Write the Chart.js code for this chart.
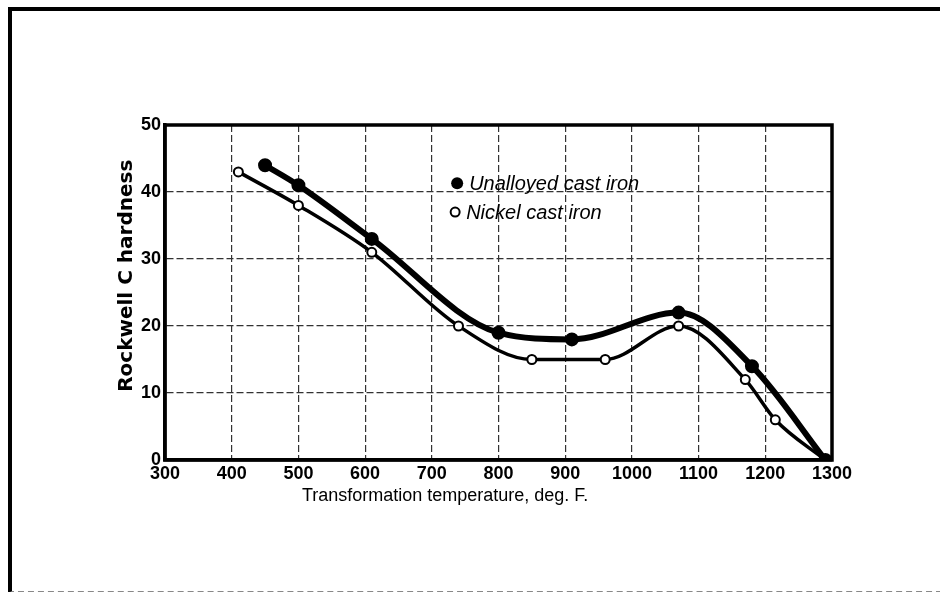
<!DOCTYPE html>
<html>
<head>
<meta charset="utf-8">
<script src="https://cdn.jsdelivr.net/npm/chart.js@4"></script>
<style>
html,body{margin:0;padding:0;background:#fff;}
#wrap{position:relative;width:940px;height:592px;overflow:hidden;}
#frame{position:absolute;left:8px;top:7px;width:940px;height:580px;border-top:4px solid #000;border-left:4px solid #000;border-bottom:2px dashed #888;}
canvas{position:absolute;left:0;top:0;}
</style>
</head>
<body>
<div id="wrap">
<div id="frame"></div>
<canvas id="c" width="940" height="592"></canvas>
</div>
<script>
// values
const unalloyedTemp=[450,500,610,800,910,1070,1180,1290];
const unalloyedHard=[44,41,33,19,18,22,14,0];
const nickelTemp=[410,500,610,740,850,960,1070,1170,1215,1290];
const nickelHard=[43,38,31,20,15,15,20,12,6,0];
const xTicks=[300,400,500,600,700,800,900,1000,1100,1200,1300];
const yTicks=[0,10,20,30,40,50];
const seriesNames=['Unalloyed cast iron','Nickel cast iron'];
const xTitle='Transformation temperature, deg. F.';
const yTitle='Rockwell C hardness';

const toXY=(xs,ys)=>xs.map((x,i)=>({x:x,y:ys[i]}));

// legend and titles placed in data units
const legendAt={x:738,y1:41.3,y2:37};
const titleAt={x:720,yCenter:27.5};

const frameAndText={
 id:'frameAndText',
 afterDatasetsDraw(chart){
  const {ctx,chartArea:a,scales:{x,y}}=chart;
  ctx.save();
  ctx.strokeStyle='#000';
  ctx.lineWidth=3.5;
  ctx.strokeRect(a.left,a.top,a.right-a.left,a.bottom-a.top);
  const lx=x.getPixelForValue(legendAt.x);
  const ly1=y.getPixelForValue(legendAt.y1);
  const ly2=y.getPixelForValue(legendAt.y2);
  ctx.fillStyle='#000';
  ctx.beginPath();ctx.arc(lx,ly1,6,0,Math.PI*2);ctx.fill();
  ctx.fillStyle='#fff';ctx.lineWidth=2;
  ctx.beginPath();ctx.arc(lx-2,ly2,4.5,0,Math.PI*2);ctx.fill();ctx.stroke();
  ctx.fillStyle='#000';
  ctx.font='italic 20px "Liberation Sans"';
  ctx.textBaseline='middle';
  ctx.fillText(seriesNames[0],lx+12,ly1+1);
  ctx.fillText(seriesNames[1],lx+9,ly2+1);
  // axis titles
  ctx.textAlign='center';
  ctx.font='18px "Liberation Sans"';
  ctx.fillText(xTitle,x.getPixelForValue(titleAt.x),a.bottom+36);
  ctx.translate(a.left-38,y.getPixelForValue(titleAt.yCenter));
  ctx.rotate(-Math.PI/2);
  ctx.font='bold 20px "DejaVu Sans"';
  ctx.fillText(yTitle,0,0);
  ctx.restore();
 }
};

const tickFont={family:'"Liberation Sans"',size:18,weight:'bold'};

new Chart(document.getElementById('c'),{
 type:'line',
 data:{datasets:[
  {label:seriesNames[0],data:toXY(unalloyedTemp,unalloyedHard),borderColor:'#000',borderWidth:6,
   pointRadius:4,pointBackgroundColor:'#000',pointBorderColor:'#000',cubicInterpolationMode:'monotone'},
  {label:seriesNames[1],data:toXY(nickelTemp,nickelHard),borderColor:'#000',borderWidth:3.5,
   pointRadius:4.5,pointBackgroundColor:'#fff',pointBorderColor:'#000',pointBorderWidth:2,cubicInterpolationMode:'monotone'}
 ]},
 options:{
  responsive:false,animation:false,
  layout:{padding:{left:112,right:108,top:125,bottom:82}},
  plugins:{legend:{display:false},tooltip:{enabled:false}},
  scales:{
   x:{type:'linear',min:300,max:1300,
    afterBuildTicks:s=>{s.ticks=xTicks.map(v=>({value:v}));},
    afterFit:s=>{s.height=50;},
    grid:{color:'#333',lineWidth:1.2,drawTicks:false},
    border:{display:true,color:'#000',width:3.5,dash:[7,3]},
    ticks:{color:'#000',font:tickFont,padding:3,maxRotation:0,callback:v=>String(v)}
   },
   y:{min:0,max:50,
    afterBuildTicks:s=>{s.ticks=yTicks.map(v=>({value:v}));},
    afterFit:s=>{s.width=53;},
    grid:{color:'#333',lineWidth:1.2,drawTicks:false},
    border:{display:true,color:'#000',width:3.5,dash:[7,3]},
    ticks:{color:'#000',font:tickFont,padding:4,callback:v=>String(v)}
   }
  }
 },
 plugins:[frameAndText]
});
</script>
</body>
</html>
